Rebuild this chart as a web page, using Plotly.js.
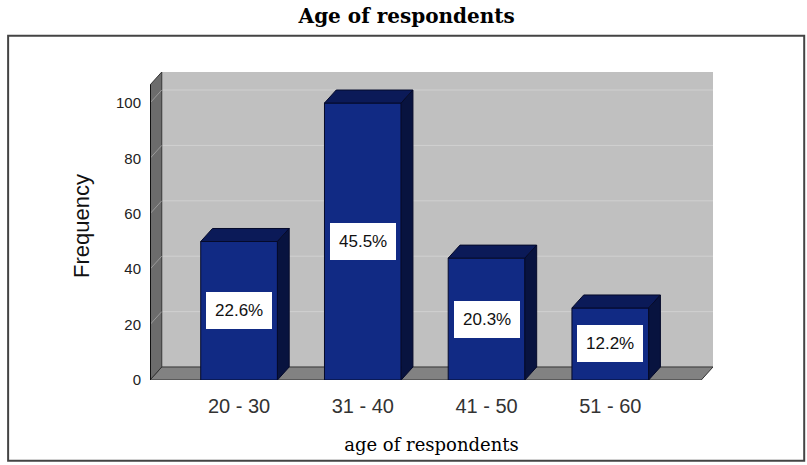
<!DOCTYPE html>
<html>
<head>
<meta charset="utf-8">
<script src="https://cdn.plot.ly/plotly-3.0.1.min.js"></script>
<style>html,body{margin:0;padding:0;background:#fff;}#chart{width:807px;height:465px;}</style>
</head>
<body>
<div id="chart"></div>
<script>
// ---- data ----
const categories = ["20 - 30", "31 - 40", "41 - 50", "51 - 60"];
const frequency = [50, 100, 44, 26];
const percentLabels = ["22.6%", "45.5%", "20.3%", "12.2%"];
const yTicks = [0, 20, 40, 60, 80, 100];

// ---- 3D styling parameters (in axis units) ----
const X0 = -0.72, X1 = 3.83;   // x range
const Y0 = 0, Y1 = 111.2;      // y range
const DX = 0.095, DY = 4.7;    // depth offset
const BW = 0.62;               // bar width

const xs = categories.map((c, i) => i);
const shapes = [];

// outer border (paper coords)
shapes.push({type:'rect', xref:'paper', yref:'paper', x0:-0.252, x1:1.162, y0:-0.262, y1:1.118,
  line:{color:'#444', width:2}, fillcolor:'rgba(0,0,0,0)', layer:'below'});
// back wall
shapes.push({type:'rect', xref:'x', yref:'y', x0:X0+DX, x1:X1, y0:Y0+DY, y1:Y1,
  fillcolor:'#c0c0c0', line:{width:0}, layer:'below'});
// gridlines on back wall
yTicks.slice(1).forEach(t => {
  shapes.push({type:'line', xref:'x', yref:'y', x0:X0+DX, x1:X1, y0:t+DY, y1:t+DY,
    line:{color:'#d0d0d0', width:1}, layer:'below'});
});
// floor
shapes.push({type:'path', xref:'x', yref:'y',
  path:`M ${X0} ${Y0} L ${X1-DX} ${Y0} L ${X1} ${Y0+DY} L ${X0+DX} ${Y0+DY} Z`,
  fillcolor:'#828282', line:{color:'#333', width:1}, layer:'below'});
// left wall
shapes.push({type:'path', xref:'x', yref:'y',
  path:`M ${X0} ${Y0} L ${X0+DX} ${Y0+DY} L ${X0+DX} ${Y1} L ${X0} ${Y1-DY} Z`,
  fillcolor:'#6c6c6c', line:{color:'#333', width:1}, layer:'below'});
// diagonal ticks on left wall
yTicks.slice(1).forEach(t => {
  shapes.push({type:'line', xref:'x', yref:'y', x0:X0, x1:X0+DX, y0:t, y1:t+DY,
    line:{color:'#9a9a9a', width:1}, layer:'below'});
});
// front edge of left wall
shapes.push({type:'line', xref:'x', yref:'y', x0:X0, x1:X0, y0:Y0, y1:Y1-DY,
  line:{color:'#111', width:2}, layer:'below'});

// bar tops & sides
xs.forEach((x, i) => {
  const v = frequency[i];
  const l = x - BW/2, r = x + BW/2;
  shapes.push({type:'path', xref:'x', yref:'y',
    path:`M ${l} ${v} L ${r} ${v} L ${r+DX} ${v+DY} L ${l+DX} ${v+DY} Z`,
    fillcolor:'#0b1a58', line:{color:'#050a2a', width:1}, layer:'above'});
  shapes.push({type:'path', xref:'x', yref:'y',
    path:`M ${r} ${Y0} L ${r} ${v} L ${r+DX} ${v+DY} L ${r+DX} ${Y0+DY} Z`,
    fillcolor:'#08133f', line:{color:'#050a2a', width:1}, layer:'above'});
});

const annotations = xs.map((x, i) => ({
  x: x, y: frequency[i] / 2, xref:'x', yref:'y', text: percentLabels[i], showarrow:false,
  font:{family:'Arial, Liberation Sans, sans-serif', size:17, color:'#111'},
  bgcolor:'#ffffff', borderpad:8, bordercolor:'#ffffff'
}));

const trace = {
  type:'bar', x: xs, y: frequency, width: BW,
  marker:{color:'#112a84', line:{color:'#050a2a', width:1}},
  hoverinfo:'skip'
};

const layout = {
  width:807, height:465,
  margin:{l:150, r:94, t:72, b:85},
  paper_bgcolor:'#ffffff', plot_bgcolor:'rgba(0,0,0,0)',
  showlegend:false,
  title:{text:'Age of respondents', x:0.504, xanchor:'center', y:0.966, yanchor:'middle',
    font:{family:'DejaVu Serif, Liberation Serif, serif', size:20, color:'#000', weight:'bold'}},
  xaxis:{range:[X0, X1], tickvals: xs, ticktext: categories, showgrid:false, zeroline:false,
    showline:false, ticks:'outside', ticklen:8, tickcolor:'rgba(0,0,0,0)',
    tickfont:{family:'Arial, Liberation Sans, sans-serif', size:20, color:'#333'},
    title:{text:'age of respondents', standoff:22,
      font:{family:'DejaVu Serif, Liberation Serif, serif', size:18, color:'#000'}}},
  yaxis:{range:[Y0, Y1], tickvals: yTicks, ticktext: yTicks.map(String), showgrid:false, zeroline:false,
    showline:false, ticks:'outside', ticklen:5, tickcolor:'rgba(0,0,0,0)',
    tickfont:{family:'Arial, Liberation Sans, sans-serif', size:15, color:'#222'},
    title:{text:'Frequency', standoff:20,
      font:{family:'Arial, Liberation Sans, sans-serif', size:22, color:'#111'}}},
  shapes: shapes,
  annotations: annotations
};

Plotly.newPlot('chart', [trace], layout, {displayModeBar:false, staticPlot:true});
</script>
</body>
</html>
